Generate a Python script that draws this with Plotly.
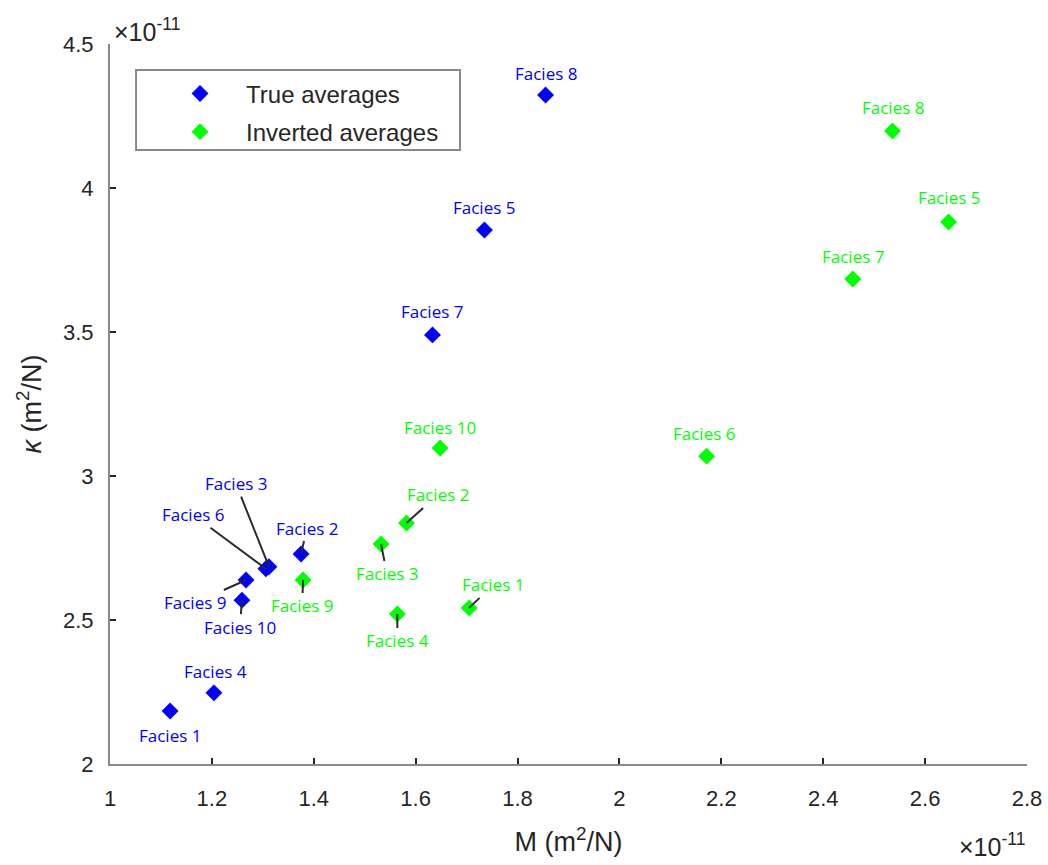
import plotly.graph_objects as go

# Compressibilities, in units of 1e-11 m^2/N
facies = ["Facies 1", "Facies 2", "Facies 3", "Facies 4", "Facies 5",
          "Facies 6", "Facies 7", "Facies 8", "Facies 9", "Facies 10"]
true_M = [1.118, 1.375, 1.312, 1.204, 1.735, 1.306, 1.633, 1.855, 1.267, 1.259]
true_kappa = [2.184, 2.729, 2.685, 2.247, 3.854, 2.678, 3.490, 4.323, 2.639, 2.569]
inv_M = [1.705, 1.582, 1.532, 1.564, 2.646, 2.171, 2.458, 2.536, 1.379, 1.648]
inv_kappa = [2.542, 2.837, 2.764, 2.521, 3.882, 3.069, 3.684, 4.198, 2.639, 3.097]

x_ticks = [1, 1.2, 1.4, 1.6, 1.8, 2, 2.2, 2.4, 2.6, 2.8]
y_ticks = [2, 2.5, 3, 3.5, 4, 4.5]

BLUE = "#0000ff"
GREEN = "#00ff00"
AXIS = "#8a8a8a"
TEXT = "#262626"
LABEL_FONT = "Open Sans"
TICK_FONT = "Liberation Sans, Arial, sans-serif"

# Label placement: (dx, dy, leader line) in pixels relative to the marker
true_offsets = [(0, 24, False), (6, -26, True), (-33, -83, True), (2, -21, False),
                (0, -23, False), (-73, -54, True), (0, -23, False), (0, -21, False),
                (-51, 23, True), (-2, 27, True)]
inv_offsets = [(24, -23, True), (31, -28, True), (6, 30, True), (0, 27, True),
               (0, -24, False), (-3, -23, False), (0, -23, False), (0, -23, False),
               (-1, 26, True), (0, -21, False)]

fig = go.Figure()
fig.add_trace(go.Scatter(
    x=true_M, y=true_kappa, mode="markers", name="True averages",
    legendgroup="a",
    marker=dict(symbol="diamond", size=13, color=BLUE, line=dict(width=0)),
))
fig.add_trace(go.Scatter(
    x=inv_M, y=inv_kappa, mode="markers", name="Inverted averages",
    legendgroup="b",
    marker=dict(symbol="diamond", size=13, color=GREEN, line=dict(width=0)),
))

annotations = []


def add_labels(xs, ys, offsets, color):
    for name, xv, yv, (dx, dy, line) in zip(facies, xs, ys, offsets):
        base = dict(x=xv, y=yv, xref="x", yref="y", text=name,
                    font=dict(family=LABEL_FONT, size=17, color=color))
        if line:
            base.update(showarrow=True, ax=dx, ay=dy, arrowhead=0,
                        arrowwidth=2, arrowcolor="#2a2a2a", standoff=0)
        else:
            base.update(showarrow=False, xshift=dx, yshift=-dy)
        annotations.append(base)


add_labels(true_M, true_kappa, true_offsets, BLUE)
add_labels(inv_M, inv_kappa, inv_offsets, GREEN)

# Exponent multipliers for both axes
annotations.append(dict(x=0.002, y=0.995, xref="paper", yref="paper",
                        xanchor="left", yanchor="bottom", showarrow=False,
                        text="×10<sup>-11</sup>",
                        font=dict(family=TICK_FONT, size=25, color=TEXT)))
annotations.append(dict(x=0.9995, y=-0.112, xref="paper", yref="paper",
                        xanchor="right", yanchor="middle", showarrow=False,
                        text="×10<sup>-11</sup>",
                        font=dict(family=TICK_FONT, size=25, color=TEXT)))

# Legend frame
shapes = [dict(type="rect", xref="paper", yref="paper",
               x0=0.0284, x1=0.3817, y0=0.8528, y1=0.9639,
               line=dict(color=AXIS, width=2), fillcolor="white", layer="below")]

fig.update_layout(
    width=1048, height=865,
    margin=dict(l=110, r=21, t=44, b=101),
    paper_bgcolor="white", plot_bgcolor="white",
    annotations=annotations, shapes=shapes,
    showlegend=True,
    legend=dict(x=0.048, y=0.962, xanchor="left", yanchor="top",
                bgcolor="rgba(0,0,0,0)", borderwidth=0,
                itemwidth=82, tracegroupgap=4,
                font=dict(family=TICK_FONT, size=24, color=TEXT)),
    xaxis=dict(
        range=[1, 2.8], tickvals=x_ticks, ticktext=[f"{v:g}" for v in x_ticks],
        showgrid=False, zeroline=False, showline=True, linecolor=AXIS, linewidth=2,
        ticks="inside", ticklen=6, tickwidth=1.5, tickcolor=TEXT,
        ticklabelstandoff=14,
        tickfont=dict(family=TICK_FONT, size=22, color=TEXT),
        title=dict(text="M (m<sup>2</sup>/N)", standoff=22,
                   font=dict(family=TICK_FONT, size=27, color=TEXT)),
        automargin=False,
    ),
    yaxis=dict(
        range=[2, 4.5], tickvals=y_ticks, ticktext=[f"{v:g}" for v in y_ticks],
        showgrid=False, zeroline=False, showline=True, linecolor=AXIS, linewidth=2,
        ticks="inside", ticklen=6, tickwidth=1.5, tickcolor=TEXT,
        ticklabelstandoff=10,
        tickfont=dict(family=TICK_FONT, size=22, color=TEXT),
        title=dict(text="<i>κ</i> (m<sup>2</sup>/N)", standoff=14,
                   font=dict(family=TICK_FONT, size=27, color=TEXT)),
        automargin=False,
    ),
)

fig.write_html("out.html")
